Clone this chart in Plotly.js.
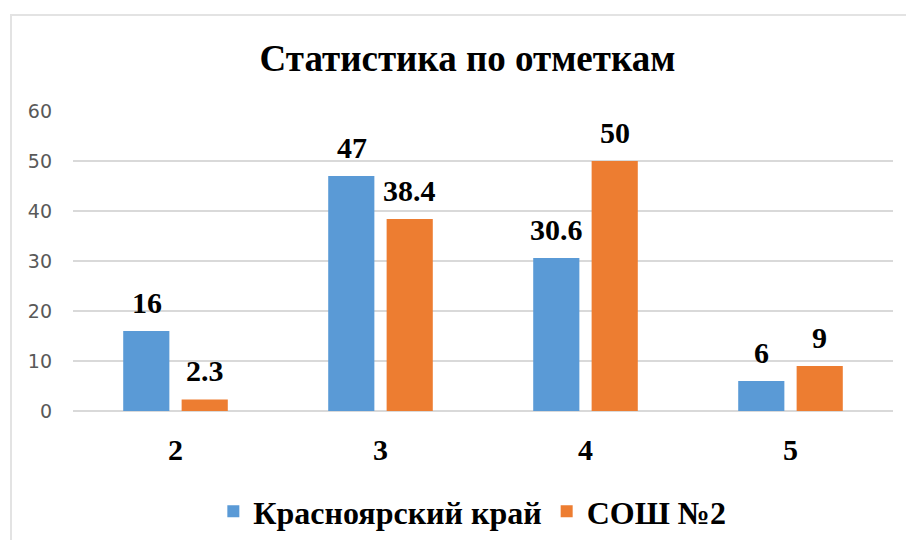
<!DOCTYPE html>
<html>
<head>
<meta charset="utf-8">
<script src="https://cdn.plot.ly/plotly-3.0.1.min.js"></script>
<style>
html,body{margin:0;padding:0;background:#fff;}
#wrap{position:relative;width:906px;height:540px;overflow:hidden;}
#frame{position:absolute;left:10px;top:14px;width:1000px;height:1000px;border-left:2px solid #e3e3e3;border-top:2px solid #e3e3e3;}
#chart{position:absolute;left:0;top:0;width:906px;height:540px;}
</style>
</head>
<body>
<div id="wrap"><div id="frame"></div><div id="chart"></div></div>
<script>
var categories = ['2', '3', '4', '5'];
var seriesNames = ['Красноярский край', 'СОШ №2'];
var krai = [16, 47, 30.6, 6];
var school = [2.3, 38.4, 50, 9];
var yTicks = [0, 10, 20, 30, 40, 50, 60];
var titleText = 'Статистика по отметкам';

var serif = '"Liberation Serif", "Times New Roman", serif';
var blue = '#5a9ad6';
var orange = '#ed7d31';

var traces = [
  {type: 'bar', name: seriesNames[0], x: categories, y: krai, marker: {color: blue}, hoverinfo: 'none'},
  {type: 'bar', name: seriesNames[1], x: categories, y: school, marker: {color: orange}, hoverinfo: 'none'}
];

var annotations = [];
function addLabels(vals, shift) {
  vals.forEach(function (v, i) {
    annotations.push({
      x: i, y: v, xref: 'x', yref: 'y',
      text: '<b>' + String(v) + '</b>', showarrow: false,
      xshift: shift, yshift: 29, yanchor: 'middle', xanchor: 'center',
      font: {family: serif, size: 30, color: '#000'}
    });
  });
}
addLabels(krai, -29);
addLabels(school, 29);

var layout = {
  width: 906, height: 540,
  paper_bgcolor: 'rgba(0,0,0,0)', plot_bgcolor: 'rgba(0,0,0,0)',
  margin: {l: 73, r: 13, t: 111, b: 129, autoexpand: false},
  title: {text: '<b>' + titleText + '</b>', font: {family: serif, size: 37, color: '#000'},
          x: 0.516, xanchor: 'center', y: 0.893, yanchor: 'middle'},
  barmode: 'group', bargap: 0.43, bargroupgap: 0.21,
  xaxis: {
    type: 'category', range: [-0.5, categories.length - 0.5],
    showgrid: false, showline: false, zeroline: false, ticks: '',
    tickfont: {family: serif, size: 30, color: '#000', weight: 'bold'}, ticklabelstandoff: 18
  },
  yaxis: {
    range: [0, 60], tickvals: yTicks, showgrid: true, gridcolor: '#d9d9d9', gridwidth: 1.5,
    zeroline: true, zerolinecolor: '#d9d9d9', zerolinewidth: 1.5, showline: false, ticks: '',
    tickfont: {family: '"DejaVu Sans", sans-serif', size: 19, color: '#595959'},
    ticklabelstandoff: 20
  },
  showlegend: true,
  legend: {orientation: 'h', x: 0.487, xanchor: 'center', yref: 'container', y: 0.053, yanchor: 'middle',
           font: {family: serif, size: 32, color: '#000', weight: 'bold'}, itemwidth: 30, itemclick: false,
           bgcolor: 'rgba(0,0,0,0)'},
  annotations: annotations
};

Plotly.newPlot('chart', traces, layout, {displayModeBar: false, staticPlot: true});
</script>
</body>
</html>
